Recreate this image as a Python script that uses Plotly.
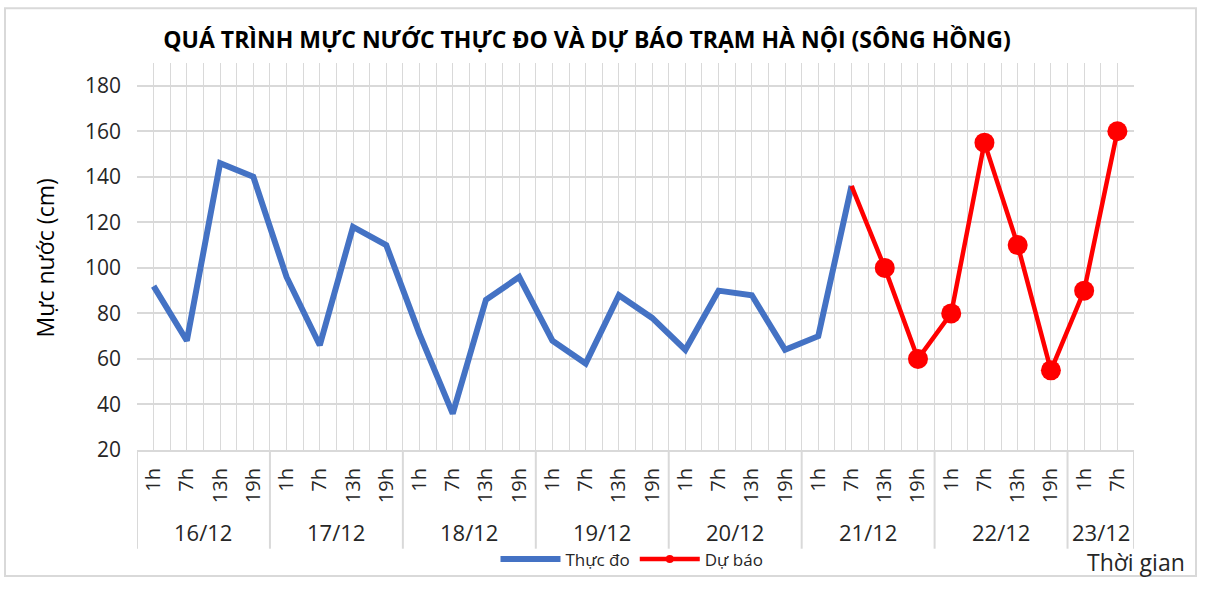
import plotly.graph_objects as go

# ---- data ----
dates = ["16/12", "17/12", "18/12", "19/12", "20/12", "21/12", "22/12", "23/12"]
hours_per_date = [["1h", "7h", "13h", "19h"]] * 7 + [["1h", "7h"]]
hours = [h for hs in hours_per_date for h in hs]

observed = [92, 68, 146, 140,
            96, 66, 118, 110,
            71, 36, 86, 96,
            68, 58, 88, 78,
            64, 90, 88, 64,
            70, 136]
forecast = [136, 100, 60,
            80, 155, 110, 55,
            90, 160]

n = len(hours)
xs = list(range(n))
obs_x = xs[:len(observed)]
fc_x = xs[n - len(forecast):]

FONT = "Open Sans"
GRID = "#d9d9d9"

fig = go.Figure()
fig.add_trace(go.Scatter(
    x=obs_x, y=observed, mode="lines", name="Thực đo",
    line=dict(color="#4472C4", width=6),
))
fig.add_trace(go.Scatter(
    x=fc_x, y=forecast, mode="lines+markers", name="Dự báo",
    line=dict(color="#FF0000", width=4.5),
    marker=dict(color="#FF0000", opacity=1, line=dict(width=0),
                size=[0] + [9] * (len(forecast) - 1)),
))
fig.add_trace(go.Scatter(
    x=fc_x[1:], y=forecast[1:], mode="markers", name="Dự báo", showlegend=False,
    marker=dict(color="#FF0000", opacity=1, line=dict(width=0), size=20),
))

# group labels and dividers
L, R, T, B = 137, 1207 - 1134, 63, 589 - 459
plot_h = 589 - T - B
plot_w = 1207 - L - R

def py(pix):
    return (459 - pix) / plot_h

def px(pix):
    return (pix - L) / plot_w

start = 0
bounds = [-0.5]
for d, hs in zip(dates, hours_per_date):
    end = start + len(hs) - 1
    fig.add_annotation(x=(start + end) / 2, y=py(543), xref="x", yref="paper",
                       text=d, showarrow=False, xanchor="center", yanchor="middle",
                       font=dict(family=FONT, size=22, color="#262626"))
    start = end + 1
    bounds.append(end + 0.5)
for b in bounds:
    fig.add_shape(type="line", xref="x", yref="paper", x0=b, x1=b,
                  y0=0, y1=py(560), line=dict(color=GRID, width=2))

# y-axis title
fig.add_annotation(x=px(45), y=py(263), xref="paper", yref="paper",
                   text="Mực nước (cm)", textangle=-90, showarrow=False,
                   xanchor="center", yanchor="middle",
                   font=dict(family=FONT, size=23, color="#000000"))
# x-axis title
fig.add_annotation(x=px(1136), y=py(574), xref="paper", yref="paper",
                   text="Thời gian", showarrow=False, xanchor="center", yanchor="middle",
                   font=dict(family=FONT, size=23, color="#262626"))
# chart border
fig.add_shape(type="rect", xref="paper", yref="paper",
              x0=px(5), x1=px(1196), y0=py(7), y1=py(588),
              line=dict(color=GRID, width=2), layer="below")

fig.update_layout(
    width=1207, height=589,
    margin=dict(l=L, r=R, t=T, b=B),
    paper_bgcolor="white", plot_bgcolor="white",
    title=dict(text="<b>QUÁ TRÌNH MỰC NƯỚC THỰC ĐO VÀ DỰ BÁO TRẠM HÀ NỘI (SÔNG HỒNG)</b>",
               x=587 / 1207, xanchor="center", y=1 - 40 / 589, yanchor="middle",
               font=dict(family=FONT, size=23, color="#000000")),
    legend=dict(orientation="h", x=px(632), y=py(571), xanchor="center", yanchor="middle",
                font=dict(family=FONT, size=17, color="#262626"),
                itemwidth=60, bgcolor="rgba(0,0,0,0)"),
    showlegend=True,
)
fig.update_xaxes(
    range=[-0.5, n - 0.5], tickmode="array", tickvals=xs, ticktext=hours,
    tickangle=-90, ticks="", ticklabelstandoff=8,
    tickfont=dict(family=FONT, size=20, color="#262626"),
    showgrid=True, gridcolor=GRID, gridwidth=1,
    minor=dict(tickmode="array", tickvals=[i + 0.5 for i in range(-1, n)],
               showgrid=True, gridcolor=GRID, gridwidth=1),
    showline=True, linecolor=GRID, linewidth=2, zeroline=False,
)
fig.update_yaxes(
    range=[20, 190], tickmode="array", tickvals=list(range(20, 181, 20)),
    ticks="", ticklabelstandoff=15,
    tickfont=dict(family=FONT, size=21, color="#262626"),
    showgrid=True, gridcolor=GRID, gridwidth=1.5,
    showline=False, zeroline=False,
)

fig.write_html("out.html",
               config={"displayModeBar": False},
               post_script="document.body.style.margin='0';document.body.style.overflow='hidden';")
